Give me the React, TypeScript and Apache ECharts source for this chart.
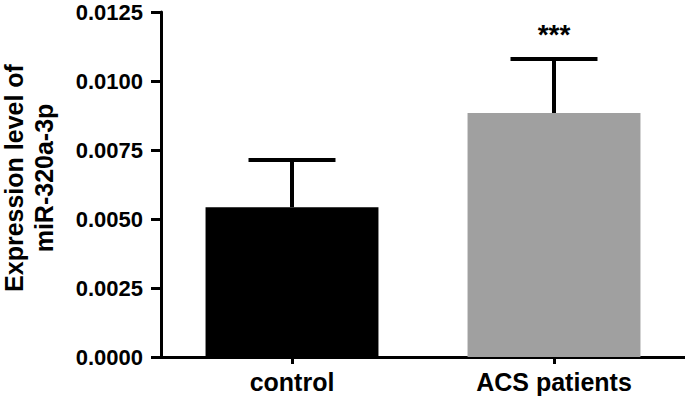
import React, { useEffect, useRef } from "react";
import * as echarts from "echarts";

const categories = ["control", "ACS patients"];
const means = [0.00543, 0.00884];
const upperErrors = [0.00171, 0.00196];
const significance = ["", "***"];
const yMin = 0;
const yMax = 0.0125;
const yInterval = 0.0025;

const barColors = ["#000000", "#a0a0a0"];
const FONT = "'Liberation Sans', Arial, Helvetica, sans-serif";

export default function App() {
  const ref = useRef<HTMLDivElement>(null);

  useEffect(() => {
    if (!ref.current) return;
    const chart = echarts.init(ref.current, undefined, { renderer: "svg" });

    const errData = categories.map((c, i) => [i, means[i], means[i] + upperErrors[i]]);

    chart.setOption({
      animation: false,
      backgroundColor: "#ffffff",
      grid: { left: 161, right: 0, top: 12, bottom: 47, containLabel: false },
      xAxis: {
        type: "category",
        data: categories,
        axisLine: { show: true, lineStyle: { color: "#000", width: 3 } },
        axisTick: { show: true, alignWithLabel: true, length: 7, lineStyle: { color: "#000", width: 3 } },
        axisLabel: {
          color: "#000",
          fontSize: 25,
          fontWeight: "bold",
          fontFamily: FONT,
          margin: 12,
        },
      },
      yAxis: {
        type: "value",
        min: yMin,
        max: yMax,
        interval: yInterval,
        splitLine: { show: false },
        axisLine: { show: true, lineStyle: { color: "#000", width: 3 } },
        axisTick: { show: true, length: 10, lineStyle: { color: "#000", width: 3 } },
        axisLabel: {
          color: "#000",
          fontSize: 22,
          fontWeight: "bold",
          fontFamily: FONT,
          margin: 18,
          formatter: (v: number) => v.toFixed(4),
        },
      },
      graphic: [
        {
          type: "text",
          x: 29,
          y: 178,
          rotation: Math.PI / 2,
          style: {
            text: "Expression level of\nmiR-320a-3p",
            font: `bold 25px ${FONT}`,
            fill: "#000",
            textAlign: "center",
            textVerticalAlign: "middle",
            lineHeight: 30,
          },
        },
      ],
      series: [
        {
          type: "bar",
          barWidth: "66%",
          data: means.map((v, i) => ({ value: v, itemStyle: { color: barColors[i] } })),
          z: 2,
        },
        {
          type: "custom",
          z: 3,
          data: errData,
          encode: { x: 0, y: [1, 2] },
          renderItem: (params: any, api: any) => {
            const idx = api.value(0);
            const lo = api.coord([idx, api.value(1)]);
            const hi = api.coord([idx, api.value(2)]);
            const half = api.size([1, 0])[0] * 0.166;
            const children: any[] = [
              {
                type: "line",
                shape: { x1: lo[0], y1: lo[1], x2: hi[0], y2: hi[1] },
                style: { stroke: "#000", lineWidth: 4 },
              },
              {
                type: "line",
                shape: { x1: hi[0] - half, y1: hi[1], x2: hi[0] + half, y2: hi[1] },
                style: { stroke: "#000", lineWidth: 4 },
              },
            ];
            const sig = significance[params.dataIndex];
            if (sig) {
              children.push({
                type: "text",
                x: hi[0],
                y: hi[1] - 10,
                style: {
                  text: sig,
                  font: `bold 28px ${FONT}`,
                  fill: "#000",
                  textAlign: "center",
                  textVerticalAlign: "bottom",
                },
              });
            }
            return { type: "group", children };
          },
        },
      ],
    });

    return () => chart.dispose();
  }, []);

  return (
    <div
      ref={ref}
      style={{ position: "absolute", left: 0, top: 0, width: 685, height: 404 }}
    />
  );
}
